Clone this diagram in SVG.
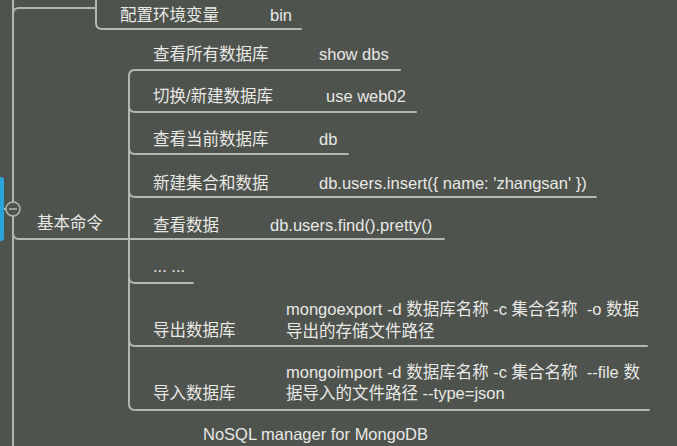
<svg xmlns="http://www.w3.org/2000/svg" width="677" height="446" viewBox="0 0 677 446">
<style>
.ln{fill:none;stroke:#b4b6b1;stroke-width:2;stroke-linecap:round}
.t{font-family:"Liberation Sans","Noto Sans CJK SC",sans-serif;font-size:16.5px;fill:#e8e8e5}
</style>
<rect width="677" height="446" fill="#4f534e"/>
<g id="connectors">
  <path class="ln" d="M13 0 L13 446"/>
  <path class="ln" d="M13 14 Q13 8 19 8 L96 8"/>
  <path class="ln" d="M96 0 L96 23 Q96 29 102 29 L301 29"/>
  <path class="ln" d="M13 216 L13 233 Q13 239 19 239 L444 239"/>
  <path class="ln" d="M135 70 Q129 70 129 76 L129 404 Q129 410 135 410 L649 410"/>
  <path class="ln" d="M135 70 L400 70"/>
  <path class="ln" d="M129 106 Q129 112 135 112 L416 112"/>
  <path class="ln" d="M129 148 Q129 154 135 154 L348 154"/>
  <path class="ln" d="M129 191 Q129 197 135 197 L596 197"/>
  <path class="ln" d="M129 277 Q129 283 135 283 L193 283"/>
  <path class="ln" d="M129 340 Q129 346 135 346 L647 346"/>
  <path class="ln" d="M3 209 L6 209"/>
</g>
<g id="node-env">
  <text class="t" x="120" y="21">配置环境变量</text>
  <text class="t" x="270" y="21">bin</text>
</g>
<g id="node-root">
  <rect x="-4" y="177" width="8" height="64" rx="3" fill="#2aa4dd"/>
  <circle cx="13" cy="209" r="7" fill="#4f534e" stroke="#b4b6b1" stroke-width="1.5"/>
  <path d="M9 209 L17 209" stroke="#b4b6b1" stroke-width="1.5"/>
  <text class="t" x="37" y="229">基本命令</text>
</g>
<g id="node-showdbs">
  <text class="t" x="153" y="60">查看所有数据库</text>
  <text class="t" x="319" y="60">show dbs</text>
</g>
<g id="node-use">
  <text class="t" x="153" y="102">切换/新建数据库</text>
  <text class="t" x="326" y="102">use web02</text>
</g>
<g id="node-db">
  <text class="t" x="153" y="145">查看当前数据库</text>
  <text class="t" x="319" y="145">db</text>
</g>
<g id="node-insert">
  <text class="t" x="153" y="189">新建集合和数据</text>
  <text class="t" x="319" y="189">db.users.insert({ name: 'zhangsan' })</text>
</g>
<g id="node-find">
  <text class="t" x="153" y="231">查看数据</text>
  <text class="t" x="270" y="231">db.users.find().pretty()</text>
</g>
<g id="node-more">
  <text class="t" x="153" y="272">... ...</text>
</g>
<g id="node-export">
  <text class="t" x="153" y="336">导出数据库</text>
  <text class="t" x="286" y="315" xml:space="preserve">mongoexport -d 数据库名称 -c 集合名称  -o 数据</text>
  <text class="t" x="286" y="337">导出的存储文件路径</text>
</g>
<g id="node-import">
  <text class="t" x="153" y="399">导入数据库</text>
  <text class="t" x="286" y="378" xml:space="preserve">mongoimport -d 数据库名称 -c 集合名称  --file 数</text>
  <text class="t" x="286" y="399">据导入的文件路径 --type=json</text>
</g>
<g id="node-nosql">
  <text class="t" x="203" y="440">NoSQL manager for MongoDB</text>
</g>
</svg>
